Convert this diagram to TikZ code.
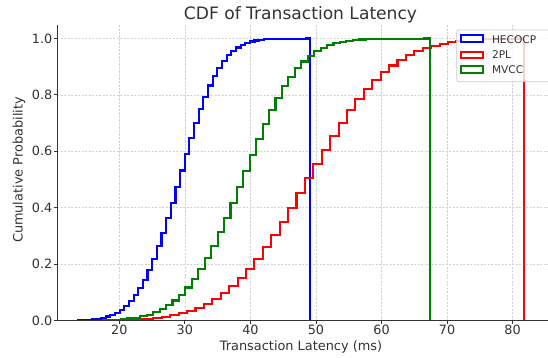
\documentclass[tikz,border=0pt]{standalone}
\usepackage{fontspec}
\setmainfont{DejaVu Sans}
\definecolor{axc}{HTML}{333333}
\definecolor{txtc}{HTML}{333333}
\definecolor{gridc}{HTML}{D2D2D2}
\definecolor{legc}{HTML}{CCCCCC}
\definecolor{mgreen}{HTML}{008000}
\newcommand\cdfcurve[6]{%
  \draw[curve,#1] ({X(#2)},{Y(0)})
    \foreach \i in {1,...,50}{
      -- ({X(#2+(\i-1)*(#3-#2)/50)},{Y(min(1,F(#2+\i*(#3-#2)/50,#4,#5,#6)+(\i>49)))})
      -- ({X(#2+\i*(#3-#2)/50)},{Y(min(1,F(#2+\i*(#3-#2)/50,#4,#5,#6)+(\i>49)))})
    }
    -- ({X(#3)},{Y(0)});
}
\begin{document}
\begin{tikzpicture}[x=1pt,y=-1pt,
  declare function={
    X(\d)=119.3+(\d-20)*6.555;
    Y(\p)=320.5-\p*282;
    Phi(\z)=1/(1+exp(-0.07056*\z*\z*\z-1.5976*\z));
    Cz(\z)=max(-3.5,min(3.5,\z));
    F(\qa,\qb,\qc,\qd)=Phi(Cz((\qa-\qb)/(\qc+(\qd-\qc)*(\qa>=\qb))));
  },
  curve/.style={line width=2.1pt},
  gridline/.style={gridc, line width=0.55pt, dash pattern=on 2.2pt off 1.3pt},
  spine/.style={axc, line width=0.9pt},
  tickmark/.style={axc, line width=0.8pt},
  ticklab/.style={font=\fontsize{12.8}{15}\selectfont, text=txtc, inner sep=0pt},
  axlab/.style={font=\fontsize{12.9}{15}\selectfont, text=txtc, inner sep=0pt},
  titlelab/.style={font=\fontsize{17.1}{20}\selectfont, text=txtc, inner sep=0pt},
  leglab/.style={font=\fontsize{10.6}{13}\selectfont, text=txtc, inner sep=0pt, anchor=base west},
  legpatch/.style={line width=2pt},
]
\clip (0,0) rectangle (548,358);
\fill[white] (0,0) rectangle (548,358);
% grid
\foreach \v in {20,30,...,80}{
  \draw[gridline] ({X(\v)},25) -- ({X(\v)},320.5);
}
\foreach \v in {0.2,0.4,0.6,0.8,1.0}{
  \draw[gridline] (57,{Y(\v)}) -- (548,{Y(\v)});
}
% curves
\cdfcurve{blue}{13.66}{49.15}{29.6}{5.0}{4.8}
\cdfcurve{red}{17.5}{81.7}{49.5}{9.8}{9.9}
\cdfcurve{mgreen}{18.3}{67.4}{39.4}{7.0}{6.7}
% spines
\coordinate (ytop) at (57,25);
\coordinate (orig) at (57,320.5);
\coordinate (xend) at (548,320.5);
\draw[spine] (ytop) -- (orig) -- (xend);
% ticks
\foreach \v in {20,30,...,80}{
  \draw[tickmark] ({X(\v)},320.5) -- ({X(\v)},324);
  \node[ticklab, anchor=base] (xt\v) at ({X(\v)},334.6) {\v};
}
\foreach \v in {0.0,0.2,0.4,0.6,0.8,1.0}{
  \draw[tickmark] (53.5,{Y(\v)}) -- (57,{Y(\v)});
  \node[ticklab, anchor=east] (yt\v) at (52.5,{Y(\v)}) {\v};
}
% labels
\node[titlelab, anchor=base] (title) at (300.5,19.5) {CDF of Transaction Latency};
\node[axlab, anchor=base] (xlab) at (301,350.8) {Transaction Latency (ms)};
\node[axlab, anchor=base, rotate=90] (ylab) at (22.6,170) {Cumulative Probability};
% legend
\draw[legc, line width=0.8pt, fill=white, fill opacity=0.8, rounded corners=2.5pt] (456.7,30) rectangle (566,81.7);
\draw[legpatch, draw=blue, fill=white] (460.5,35.4) rectangle (482.5,42.3);
\draw[legpatch, draw=red, fill=white] (460.5,51.6) rectangle (482.5,58.5);
\draw[legpatch, draw=mgreen, fill=white] (460.5,66.3) rectangle (482.5,73.2);
\node[leglab] (l1) at (491.8,43.1) {HECOCP};
\node[leglab] (l2) at (491.8,58.9) {2PL};
\node[leglab] (l3) at (491.8,73.8) {MVCC};
\end{tikzpicture}
\end{document}
